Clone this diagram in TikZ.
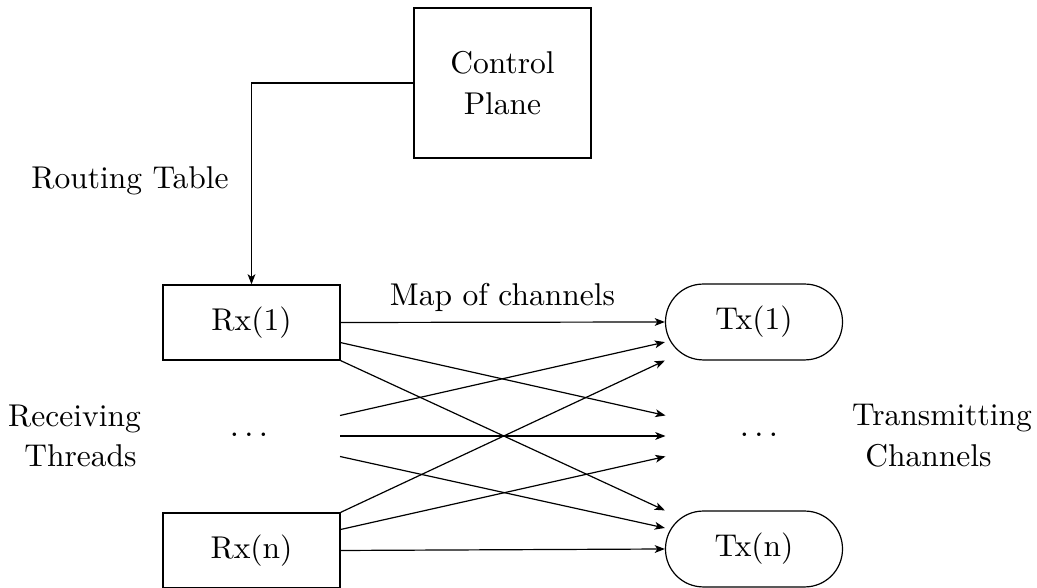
\documentclass[tikz,border=0pt]{standalone}
\usetikzlibrary{arrows.meta}
\begin{document}
\begin{tikzpicture}[x=0.33333pt,y=0.33333pt,
    line width=0.4pt,
    every node/.style={font=\fontsize{10.5}{13.6}\selectfont},
    sqbox/.style={draw, rectangle, inner sep=0pt, minimum width=59pt, minimum height=25pt},
    pillbox/.style={draw, rectangle, rounded corners=12.6pt, inner sep=0pt, minimum width=59pt, minimum height=25.3pt},
    link/.style={-{Stealth[length=3.4pt,width=2.6pt,inset=0.9pt]}},
    lbl/.style={align=center, inner sep=0pt}]
  \useasboundingbox (0,0) rectangle (1037,-588);

  % control plane
  \node[draw, rectangle, inner sep=0pt, minimum width=59pt, minimum height=50pt, align=center]
    (cp) at (502.5,-83) {Control\\Plane};
  \node[lbl] (rt) at (130,-181) {Routing Table};

  % receiving threads
  \node[sqbox] (rx1) at (251.5,-322.5) {Rx(1)};
  \node[sqbox] (rxn) at (251.5,-550.5) {Rx(n)};
  \node[inner sep=0pt] (ldots) at (249,-435) {$\ldots$};
  \node[lbl] (recv) at (74.5,-436) {Receiving\\\hspace*{4pt}Threads};

  % transmitting channels
  \node[pillbox] (tx1) at (754,-322) {Tx(1)};
  \node[pillbox] (txn) at (754,-549) {Tx(n)};
  \node[inner sep=0pt] (rdots) at (759,-435) {$\ldots$};
  \node[lbl] (trans) at (942,-436) {Transmitting\\Channels\hspace*{9pt}};

  \node[lbl] (map) at (502.5,-297.5) {Map of channels};

  % free ends of the middle bundle
  \coordinate (lu) at (340,-415.5);
  \coordinate (lm) at (340,-436);
  \coordinate (ll) at (340,-456.5);
  \coordinate (ru) at (665.5,-415.5);
  \coordinate (rm) at (665.5,-436);
  \coordinate (rl) at (665.5,-456.5);
  \coordinate (a1) at ([yshift=-6.7pt]rx1.east);
  \coordinate (b1) at ([yshift=-6.7pt]tx1.west);
  \coordinate (an) at ([yshift=7pt]rxn.east);
  \coordinate (bn) at ([yshift=7pt]txn.west);

  % routing table update
  \draw[link] (cp.west) -| (rx1.north);

  % channel map
  \draw[link] (rx1.east) -- (tx1.west);
  \draw[link] (a1) -- (ru);
  \draw[link] (rx1.south east) -- (txn.north west);
  \draw[link] (lu) -- (b1);
  \draw[link] (lm) -- (rm);
  \draw[link] (ll) -- (bn);
  \draw[link] (rxn.north east) -- (tx1.south west);
  \draw[link] (an) -- (rl);
  \draw[link] (rxn.east) -- (txn.west);
\end{tikzpicture}
\end{document}
